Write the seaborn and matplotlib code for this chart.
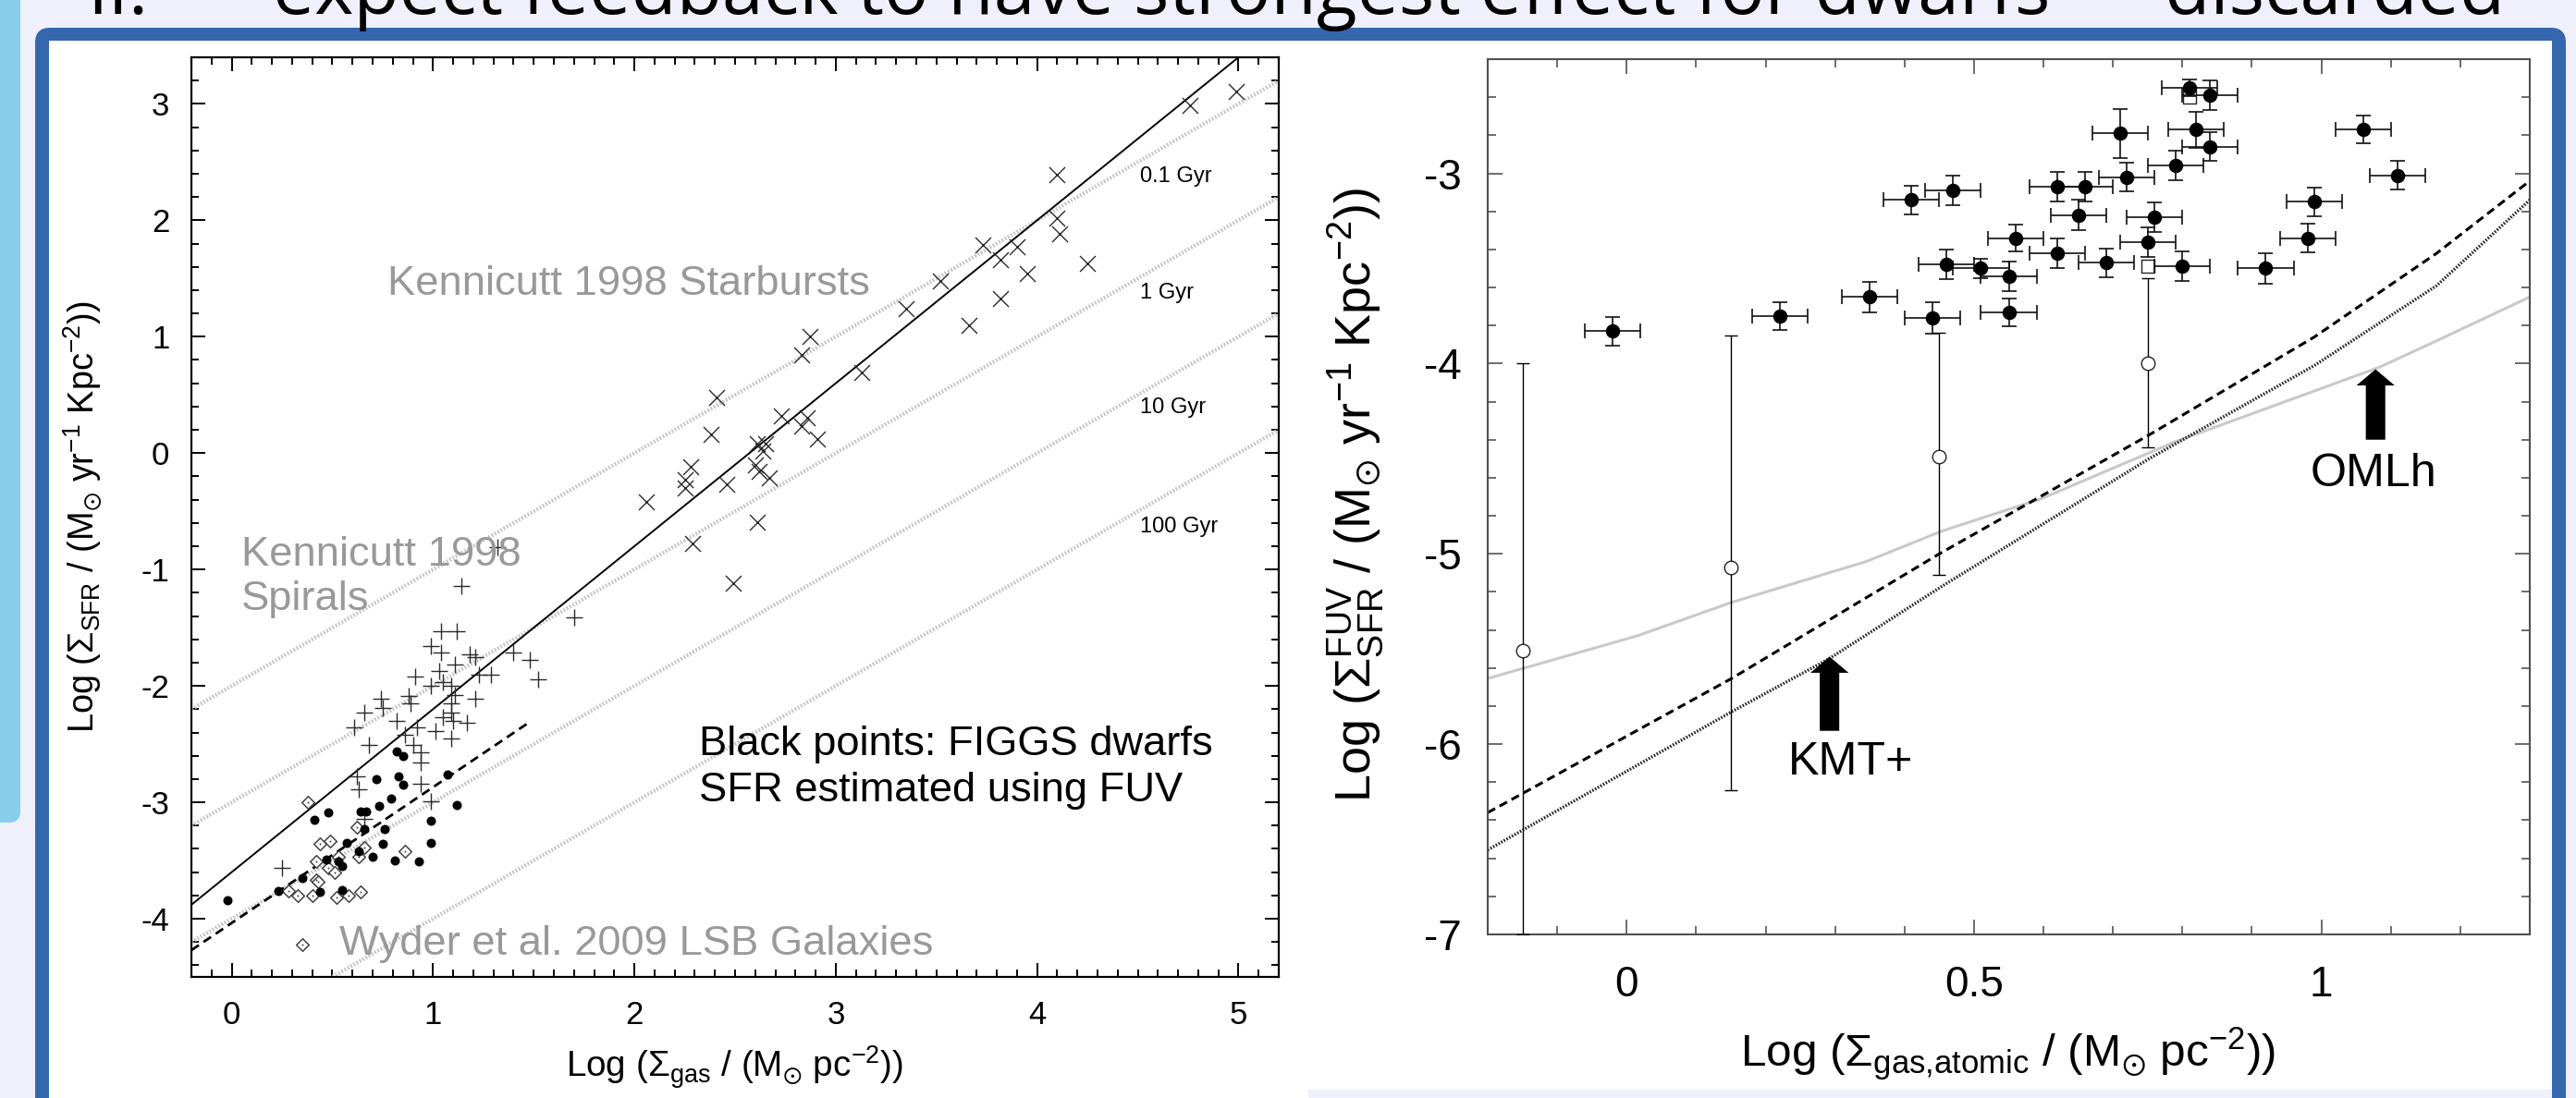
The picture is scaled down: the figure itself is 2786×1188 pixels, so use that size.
import numpy as np
import pandas as pd
import matplotlib
matplotlib.use("Agg")
import matplotlib.pyplot as plt
import seaborn as sns
from matplotlib.patches import Rectangle, FancyBboxPatch, FancyArrow
from matplotlib.transforms import IdentityTransform
from matplotlib.ticker import MultipleLocator, FuncFormatter

# ---------------- data: left panel (Kennicutt-Schmidt plane) ----------------
starburst_x = [4.99, 4.76, 4.10, 4.10, 4.11, 3.73, 3.90, 3.82, 4.25, 3.95, 3.52, 3.82, 3.35, 3.66,
               2.87, 2.83, 3.13, 2.41, 2.73, 2.86, 2.83, 2.38, 2.91, 2.61, 2.65, 2.64, 2.28, 2.60,
               2.62, 2.67, 2.25, 2.46, 2.25, 2.06, 2.61, 2.29, 2.49]
starburst_y = [3.11, 2.99, 2.39, 2.02, 1.88, 1.79, 1.77, 1.66, 1.63, 1.54, 1.48, 1.33, 1.24, 1.10,
               1.00, 0.84, 0.69, 0.48, 0.32, 0.30, 0.23, 0.16, 0.12, 0.08, 0.08, 0.02, -0.12, -0.10,
               -0.16, -0.21, -0.23, -0.27, -0.30, -0.42, -0.59, -0.78, -1.12]

spiral_x = [1.14, 1.70, 1.04, 1.12, 0.99, 1.04, 1.18, 1.40, 1.21, 1.48, 1.11, 1.03, 1.23, 1.29,
            0.91, 1.52, 1.05, 0.99, 1.09, 0.88, 1.11, 1.21, 0.74, 0.89, 1.09, 0.75, 0.66, 1.09,
            1.05, 0.82, 1.10, 1.17, 0.61, 0.92, 1.01, 0.86, 1.09, 0.68, 0.90, 0.94, 0.94, 0.62,
            0.63, 0.94, 0.99, 0.66, 0.25, 1.32]
spiral_y = [-1.14, -1.41, -1.53, -1.53, -1.66, -1.71, -1.73, -1.71, -1.75, -1.78, -1.82, -1.87,
            -1.90, -1.90, -1.92, -1.94, -1.97, -2.00, -2.00, -2.09, -2.08, -2.11, -2.11, -2.15,
            -2.15, -2.19, -2.23, -2.23, -2.27, -2.30, -2.30, -2.32, -2.36, -2.36, -2.39, -2.42,
            -2.45, -2.51, -2.51, -2.57, -2.66, -2.78, -2.89, -2.84, -2.99, -3.14, -3.56, -0.81]

wyder_x = [0.38, 0.44, 0.49, 0.42, 0.48, 0.51, 0.42, 0.28, 0.33, 0.40, 0.52, 0.58, 0.64, 0.62,
           0.66, 0.63, 0.86, 0.53, 0.43]
wyder_y = [-3.00, -3.36, -3.33, -3.51, -3.56, -3.60, -3.67, -3.76, -3.80, -3.80, -3.82, -3.80,
           -3.77, -3.21, -3.39, -3.47, -3.42, -3.47, -3.68]
wyder_key_x = [0.35]
wyder_key_y = [-4.22]

figgs_x = [-0.02, 0.23, 0.35, 0.44, 0.55, 0.41, 0.48, 0.47, 0.53, 0.55, 0.57, 0.63, 0.64, 0.67,
           0.66, 0.70, 0.73, 0.72, 0.76, 0.75, 0.81, 0.79, 0.83, 0.85, 0.82, 0.85, 0.93, 0.99,
           0.99, 1.07, 1.12]
figgs_y = [-3.84, -3.76, -3.65, -3.77, -3.75, -3.15, -3.09, -3.49, -3.51, -3.55, -3.35, -3.42,
           -3.08, -3.08, -3.23, -3.47, -3.03, -2.80, -3.23, -3.36, -3.50, -2.97, -2.78, -2.85,
           -2.56, -2.60, -3.51, -3.35, -3.16, -2.76, -3.02]

ks_slope = 1.4
ks_intercept = -3.6
figgs_fit_x = [-0.2, 1.48]
figgs_fit_y = [-4.27, -2.31]
depletion_gyr = [0.1, 1, 10, 100]
depletion_labels = ["0.1 Gyr", "1 Gyr", "10 Gyr", "100 Gyr"]
depletion_label_y = [2.33, 1.33, 0.34, -0.68]

# ---------------- data: right panel (atomic gas) ----------------
atomic_x = [-0.02, 0.22, 0.35, 0.41, 0.47, 0.44, 0.46, 0.51, 0.55, 0.56, 0.55, 0.62, 0.66, 0.65,
            0.62, 0.69, 0.72, 0.71, 0.75, 0.76, 0.79, 0.80, 0.81, 0.84, 0.82, 0.84, 0.92, 0.98,
            0.99, 1.06, 1.11]
atomic_y = [-3.83, -3.75, -3.65, -3.14, -3.09, -3.76, -3.48, -3.50, -3.54, -3.34, -3.73, -3.07,
            -3.07, -3.22, -3.42, -3.47, -3.02, -2.79, -3.36, -3.23, -2.96, -3.49, -2.55, -2.59,
            -2.77, -2.86, -3.50, -3.34, -3.15, -2.77, -3.01]
atomic_yerr = [0.075, 0.074, 0.08, 0.076, 0.078, 0.084, 0.077, 0.05, 0.078, 0.07, 0.074, 0.078,
               0.078, 0.08, 0.076, 0.076, 0.074, 0.13, 0.078, 0.076, 0.077, 0.078, 0.045, 0.076,
               0.095, 0.075, 0.078, 0.076, 0.077, 0.072, 0.076]
atomic_xerr = [0.04] * 31

limit_x = [-0.15, 0.15, 0.45, 0.75]
limit_y = [-5.51, -5.07, -4.49, -4.00]
limit_err_lo = [1.49, 1.17, 0.62, 0.44]
limit_err_hi = [1.51, 1.22, 0.65, 0.45]
square_x = [0.75, 0.81]
square_y = [-3.49, -2.60]

omlh_x = [-0.2, 0.016, 0.151, 0.345, 0.454, 0.597, 0.79, 1.083, 1.166, 1.3]
omlh_y = [-5.655, -5.43, -5.255, -5.04, -4.88, -4.71, -4.41, -4.02, -3.88, -3.65]
kmt_dash_x = [-0.2, 0.151, 0.45, 0.752, 0.99, 1.166, 1.3]
kmt_dash_y = [-6.36, -5.655, -5.0, -4.375, -3.86, -3.42, -3.04]
kmt_dot_x = [-0.2, 0.151, 0.292, 0.454, 0.752, 0.99, 1.166, 1.3]
kmt_dot_y = [-6.556, -5.83, -5.55, -5.17, -4.5, -4.01, -3.59, -3.14]

arrow_labels = ["OMLh", "KMT+"]
arrow_x = [1.078, 0.292]
arrow_tip = [-4.03, -5.54]
arrow_tail = [-4.40, -5.93]
arrow_label_x = [0.984, 0.233]
arrow_label_y = [-4.646, -6.16]

# ---------------- style ----------------
sns.set_theme(style="white")
plt.rcParams["font.family"] = ["Liberation Sans", "DejaVu Sans"]
plt.rcParams["mathtext.fontset"] = "custom"
plt.rcParams["mathtext.rm"] = "Liberation Sans"
plt.rcParams["mathtext.it"] = "Liberation Sans:italic"
plt.rcParams["mathtext.bf"] = "Liberation Sans:bold"
plt.rcParams["mathtext.sf"] = "Liberation Sans"
plt.rcParams["mathtext.fallback"] = "stixsans"
plt.rcParams["axes.unicode_minus"] = False

W, H = 2786, 1188
LAV = "#F0F0FC"
fig = plt.figure(figsize=(W / 100, H / 100), dpi=100, facecolor=LAV)
renderer = fig.canvas.get_renderer()


def fit(t, target, dim="w"):
    bb = t.get_window_extent(renderer)
    cur = bb.width if dim == "w" else bb.height
    t.set_fontsize(t.get_fontsize() * target / cur)


# slide decorations (pixel coordinates, y from top)
idt = IdentityTransform()
fig.add_artist(FancyBboxPatch((-30, H - 890), 52, 930, boxstyle="round,pad=0,rounding_size=12",
                              fc="#87CEEB", ec="none", transform=idt, zorder=-10))
fig.add_artist(FancyBboxPatch((38, -60), 2775 - 38, H - 30 + 60, boxstyle="round,pad=0,rounding_size=16",
                              fc="#3567AE", ec="none", transform=idt, zorder=-9))
fig.add_artist(Rectangle((53, -10), 2760 - 53, H - 44 + 10, fc="white", ec="none",
                         transform=idt, zorder=-8))
fig.add_artist(Rectangle((1415, -5), 2760 - 1415, 14, fc=LAV, ec="none", transform=idt, zorder=-7))

# title (cut off at the top of the slide, as in the slide screenshot)
t_main = fig.text(295 / W, 1 - 15 / H, "expect feedback to have strongest effect for dwarfs  \u2013  discarded",
                  family=["Open Sans", "DejaVu Sans"], fontsize=40, color="black", va="baseline", ha="left")
fit(t_main, 2409)
fig.text(94 / W, 1 - 15 / H, "II.", family=["Open Sans", "DejaVu Sans"], fontsize=t_main.get_fontsize(),
         color="black", va="baseline", ha="left")

# ---------------- left panel ----------------
axL = fig.add_axes([207 / W, 1 - 1057 / H, (1383 - 207) / W, (1057 - 62) / H])
axL.set_facecolor("white")
xl = np.array([-0.2, 5.2])
for t_gyr in depletion_gyr:
    sns.lineplot(x=xl, y=xl + 6 - np.log10(t_gyr * 1e9), ax=axL, color="#C6C6C6", linewidth=3.0,
                 linestyle=(0, (0.45, 0.45)), sort=False, estimator=None, zorder=1)
sns.lineplot(x=xl, y=ks_slope * xl + ks_intercept, ax=axL, color="black", linewidth=1.4,
             sort=False, estimator=None, zorder=2)
sns.lineplot(x=figgs_fit_x, y=figgs_fit_y, ax=axL, color="black", linewidth=2.0,
             linestyle=(0, (3.5, 2.2)), sort=False, estimator=None, zorder=2)

sns.scatterplot(x=starburst_x, y=starburst_y, ax=axL, marker="x", s=150, color="#2a2a2a",
                linewidth=1.0, zorder=3)
sns.scatterplot(x=spiral_x, y=spiral_y, ax=axL, marker="+", s=170, color="#2a2a2a",
                linewidth=1.0, zorder=3)
sns.scatterplot(x=wyder_x + wyder_key_x, y=wyder_y + wyder_key_y, ax=axL, marker="D", s=48,
                color="white", edgecolor="#444444", linewidth=1.1, zorder=4)
sns.scatterplot(x=wyder_x + wyder_key_x, y=wyder_y + wyder_key_y, ax=axL, marker="o", s=2,
                color="#444444", linewidth=0, zorder=4)
sns.scatterplot(x=figgs_x, y=figgs_y, ax=axL, marker="o", s=52, color="black", edgecolor="black",
                linewidth=0, zorder=5)

axL.set_xlim(-0.2, 5.2)
axL.set_ylim(-4.5, 3.4)
axL.xaxis.set_major_locator(MultipleLocator(1))
axL.xaxis.set_minor_locator(MultipleLocator(0.1))
axL.yaxis.set_major_locator(MultipleLocator(1))
axL.yaxis.set_minor_locator(MultipleLocator(0.2))
axL.xaxis.set_major_formatter(FuncFormatter(lambda v, p: "%g" % v))
axL.yaxis.set_major_formatter(FuncFormatter(lambda v, p: "%g" % v))
axL.tick_params(which="both", direction="in", top=True, right=True, bottom=True, left=True,
                color="black", width=1.4)
axL.tick_params(which="major", length=10.5, labelsize=25, pad=17, labelcolor="black")
axL.tick_params(which="minor", length=5.5)
axL.tick_params(axis="x", which="major", pad=18)
for s in axL.spines.values():
    s.set_color("black")
    s.set_linewidth(1.6)
    s.set_visible(True)
axL.set_xlabel("")
axL.set_ylabel("")

GRAY = "#999999"
tt = axL.text(0.772, 1.36, "Kennicutt 1998 Starbursts", color=GRAY, fontsize=30, va="baseline", ha="left", zorder=6)
fit(tt, 521)
fs_g = tt.get_fontsize()
axL.text(0.05, -0.965, "Kennicutt 1998", color=GRAY, fontsize=fs_g, va="baseline", ha="left", zorder=6)
axL.text(0.05, -1.347, "Spirals", color=GRAY, fontsize=fs_g, va="baseline", ha="left", zorder=6)
axL.text(0.533, -4.306, "Wyder et al. 2009 LSB Galaxies", color=GRAY, fontsize=fs_g, va="baseline",
         ha="left", zorder=6)
tb = axL.text(2.32, -2.595, "Black points: FIGGS dwarfs", color="black", fontsize=30, va="baseline",
              ha="left", zorder=6)
fit(tb, 555)
axL.text(2.32, -2.995, "SFR estimated using FUV", color="black", fontsize=tb.get_fontsize(),
         va="baseline", ha="left", zorder=6)
tg = None
for lab, ly in zip(depletion_labels, depletion_label_y):
    t = axL.text(4.51, ly, lab, color="black", fontsize=16, va="baseline", ha="left", zorder=6)
    if tg is None:
        fit(t, 78)
        tg = t.get_fontsize()
    else:
        t.set_fontsize(tg)

ylabL = fig.text(90 / W, 1 - 793 / H, r"Log ($\Sigma_{\rm SFR}$ / (M$_{\odot}$ yr$^{-1}$ Kpc$^{-2}$))",
                 rotation=90, ha="center", va="bottom", fontsize=28, color="black")
fit(ylabL, 468, "h")
xlabL = fig.text(612 / W, 1 - 1155 / H, r"Log ($\Sigma_{\rm gas}$ / (M$_{\odot}$ pc$^{-2}$))",
                 ha="left", va="center", fontsize=26, color="black")
fit(xlabL, 366)

# ---------------- right panel ----------------
axR = fig.add_axes([1609 / W, 1 - 1011 / H, (2736 - 1609) / W, (1011 - 64) / H])
axR.set_facecolor("white")
sns.lineplot(x=omlh_x, y=omlh_y, ax=axR, color="#C9C9C9", linewidth=2.2, sort=False, estimator=None, zorder=1)
sns.lineplot(x=kmt_dash_x, y=kmt_dash_y, ax=axR, color="black", linewidth=2.2,
             linestyle=(0, (3.0, 1.8)), sort=False, estimator=None, zorder=2)
sns.lineplot(x=kmt_dot_x, y=kmt_dot_y, ax=axR, color="#262626", linewidth=2.4,
             linestyle=(0, (0.5, 0.5)), sort=False, estimator=None, zorder=2)

axR.errorbar(limit_x, limit_y, yerr=[limit_err_lo, limit_err_hi], fmt="none", ecolor="black",
             elinewidth=1.0, capsize=5, capthick=1.0, zorder=3)
sns.scatterplot(x=limit_x, y=limit_y, ax=axR, marker="o", s=110, color="white", edgecolor="#222222",
                linewidth=1.0, zorder=4)
sns.scatterplot(x=square_x, y=square_y, ax=axR, marker="s", s=95, color="white", edgecolor="#222222",
                linewidth=1.0, zorder=4)
axR.errorbar(atomic_x, atomic_y, xerr=atomic_xerr, yerr=atomic_yerr, fmt="none", ecolor="#111111",
             elinewidth=1.2, capsize=5.5, capthick=1.2, zorder=5)
sns.scatterplot(x=atomic_x, y=atomic_y, ax=axR, marker="o", s=125, color="black", edgecolor="black",
                linewidth=0, zorder=6)

for ax_x, tip, tail in zip(arrow_x, arrow_tip, arrow_tail):
    axR.add_patch(FancyArrow(ax_x, tail, 0, tip - tail, width=0.028, head_width=0.055,
                             head_length=0.085, length_includes_head=True, fc="black", ec="none", zorder=7))
ta = None
for lab, lx, ly in zip(arrow_labels, arrow_label_x, arrow_label_y):
    t = axR.text(lx, ly, lab, color="black", fontsize=35, va="baseline", ha="left", zorder=7)
    if ta is None:
        fit(t, 137)
        ta = t.get_fontsize()
    else:
        t.set_fontsize(ta)

axR.set_xlim(-0.2, 1.3)
axR.set_ylim(-7, -2.4)
axR.xaxis.set_major_locator(MultipleLocator(0.5))
axR.xaxis.set_minor_locator(MultipleLocator(0.1))
axR.yaxis.set_major_locator(MultipleLocator(1))
axR.yaxis.set_minor_locator(MultipleLocator(0.2))
axR.xaxis.set_major_formatter(FuncFormatter(lambda v, p: "%g" % v))
axR.yaxis.set_major_formatter(FuncFormatter(lambda v, p: "%g" % v))
axR.tick_params(which="both", direction="in", top=True, right=True, bottom=True, left=True,
                color="#444444", width=1.1)
axR.tick_params(which="major", length=11.5, labelsize=33, labelcolor="black")
axR.tick_params(which="minor", length=6.5)
axR.tick_params(axis="y", which="major", pad=20)
axR.tick_params(axis="x", which="major", pad=24)
for s in axR.spines.values():
    s.set_color("#505050")
    s.set_linewidth(1.5)
    s.set_visible(True)
axR.set_xlabel("")
axR.set_ylabel("")

ylabR = fig.text(1466 / W, 1 - 868 / H,
                 r"Log ($\Sigma_{\rm SFR}^{\rm FUV}$ / (M$_{\odot}$ yr$^{-1}$ Kpc$^{-2}$))",
                 rotation=90, ha="center", va="bottom", fontsize=39, color="black")
fit(ylabR, 665, "h")
xlabR = fig.text(1882 / W, 1 - 1140 / H, r"Log ($\Sigma_{\rm gas{,}atomic}$ / (M$_{\odot}$ pc$^{-2}$))",
                 ha="left", va="center", fontsize=34, color="black")
fit(xlabR, 579)

fig.savefig("out.png", dpi=100, facecolor=LAV)
